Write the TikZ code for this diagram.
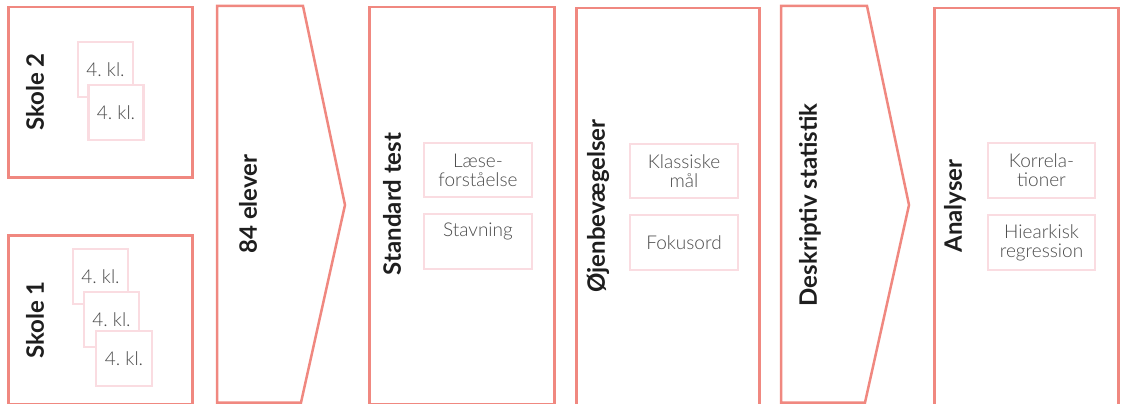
\documentclass[tikz,border=0pt]{standalone}
\usepackage{fontspec}
\setmainfont{Lato}
\newfontfamily\lightfont{Lato Light}
\definecolor{salmon}{RGB}{240,136,128}
\definecolor{pinkline}{RGB}{250,220,225}
\definecolor{txtgray}{RGB}{75,75,75}
\definecolor{titlecol}{RGB}{30,30,30}
\frenchspacing
\begin{document}
\begin{tikzpicture}[x=1pt,y=-1pt,
  outer/.style={draw=salmon, line width=2.5pt, inner sep=0pt, anchor=north west},
  title/.style={rotate=90, font=\bfseries\fontsize{24}{26}\selectfont, text=titlecol, inner sep=0pt},
  sub/.style={draw=pinkline, line width=2.5pt, fill=white, inner sep=0pt},
  subtext/.style={font=\lightfont\fontsize{19}{19}\selectfont, text=txtgray, align=center, inner sep=0pt}
]
\useasboundingbox (0,0) rectangle (1124,404);
\clip (0,0) rectangle (1124,404);

% outer boxes
\node[outer, minimum width=184pt, minimum height=170pt] (skole2) at (7,6) {};
\node[outer, minimum width=184pt, minimum height=168.5pt] (skole1) at (7,234) {};
\node[outer, minimum width=185pt, minimum height=396.5pt] (standard) at (368,6) {};
\node[outer, minimum width=183pt, minimum height=401pt] (ojen) at (575,7) {};
\node[outer, minimum width=184pt, minimum height=401pt] (analyser) at (933,7) {};

% arrow shapes
\coordinate (a1) at (217,402.5);
\coordinate (a2) at (217,6);
\coordinate (a3) at (303,6);
\coordinate (a4) at (345,205);
\coordinate (a5) at (301,402.5);
\draw[draw=salmon, line width=2.5pt, line join=miter] (a1) -- (a2) -- (a3) -- (a4) -- (a5) -- cycle;
\coordinate (b1) at (781,402.5);
\coordinate (b2) at (781,6);
\coordinate (b3) at (867,6);
\coordinate (b4) at (909,205);
\coordinate (b5) at (865,402.5);
\draw[draw=salmon, line width=2.5pt, line join=miter] (b1) -- (b2) -- (b3) -- (b4) -- (b5) -- cycle;

% titles
\node[title] (t-skole2) at (35,92) {Skole 2};
\node[title] (t-skole1) at (35,320) {Skole 1};
\node[title] (t-elever) at (248,204) {84 elever};
\node[title] (t-standard) at (392,204) {Standard test};
\node[title] (t-ojen) at (598,206) {Øjenbevægelser};
\node[title] (t-desk) at (810,205) {Deskriptiv statistik};
\node[title] (t-analyser) at (955,206) {Analyser};

% Skole 2 classes
\node[sub, minimum width=55pt, minimum height=55pt] (s2a) at (105.5,69.5) {};
\node[subtext] (s2at) at (s2a) {4. kl.};
\node[sub, minimum width=55pt, minimum height=55pt] (s2b) at (116,112.5) {};
\node[subtext] (s2bt) at (s2b) {4. kl.};

% Skole 1 classes
\node[sub, minimum width=55pt, minimum height=55pt] (s1a) at (100.5,276.5) {};
\node[subtext] (s1at) at (s1a) {4. kl.};
\node[sub, minimum width=55pt, minimum height=55pt] (s1b) at (111.5,319.5) {};
\node[subtext] (s1bt) at (s1b) {4. kl.};
\node[sub, minimum width=56pt, minimum height=55pt] (s1c) at (124,358.5) {};
\node[subtext] (s1ct) at (s1c) {4. kl.};

% Standard test
\node[sub, minimum width=108pt, minimum height=54pt] (laese) at (478,170) {};
\node[subtext] (laeset) at (laese) {Læse-\\forståelse};
\node[sub, minimum width=108pt, minimum height=55pt] (stav) at (478,241.5) {};
\node[subtext] (stavt) at (478,231) {Stavning};

% Øjenbevægelser
\node[sub, minimum width=108pt, minimum height=54pt] (klass) at (684,171) {};
\node[subtext] (klasst) at (klass) {Klassiske\\mål};
\node[sub, minimum width=108pt, minimum height=55pt] (fokus) at (684,242.5) {};
\node[subtext] (fokust) at (fokus) {Fokusord};

% Analyser
\node[sub, minimum width=107pt, minimum height=55pt] (korr) at (1041.5,170.5) {};
\node[subtext] (korrt) at (korr) {Korrela-\\tioner};
\node[sub, minimum width=107pt, minimum height=55pt] (hier) at (1041.5,242.5) {};
\node[subtext] (hiert) at (hier) {Hiearkisk\\regression};
\end{tikzpicture}
\end{document}
